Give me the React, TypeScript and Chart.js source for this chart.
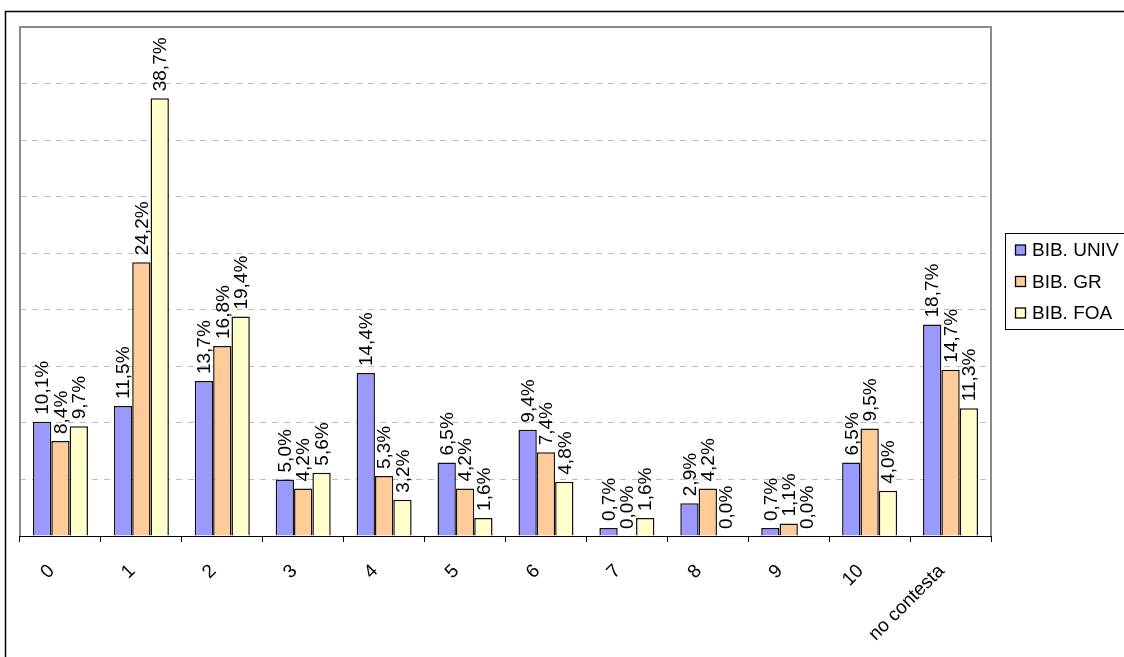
import React, { useEffect, useRef } from "react";
import { Chart, registerables } from "chart.js";

Chart.register(...registerables);

const categories = ["0", "1", "2", "3", "4", "5", "6", "7", "8", "9", "10", "no contesta"];
const seriesNames = ["BIB. UNIV", "BIB. GR", "BIB. FOA"];
const univValues = [10.1, 11.5, 13.7, 5.0, 14.4, 6.5, 9.4, 0.7, 2.9, 0.7, 6.5, 18.7];
const grValues = [8.4, 24.2, 16.8, 4.2, 5.3, 4.2, 7.4, 0.0, 4.2, 1.1, 9.5, 14.7];
const foaValues = [9.7, 38.7, 19.4, 5.6, 3.2, 1.6, 4.8, 1.6, 0.0, 0.0, 4.0, 11.3];
const seriesColors = ["#9999FF", "#FFCC99", "#FFFFCC"];

const FONT = "'Liberation Sans', Arial, sans-serif";

const framePlugin = {
  id: "frame",
  beforeDraw(chart: any) {
    const { ctx, width, height } = chart;
    ctx.save();
    ctx.fillStyle = "#ffffff";
    ctx.fillRect(0, 0, width, height);
    ctx.strokeStyle = "#000000";
    ctx.lineWidth = 1.5;
    ctx.strokeRect(5.5, 11.5, width + 20, height + 20);
    ctx.restore();
  },
  afterDatasetsDraw(chart: any) {
    const { ctx, chartArea } = chart;
    const { left, top, right, bottom } = chartArea;
    ctx.save();
    ctx.strokeStyle = "#8a8a8a";
    ctx.lineWidth = 2;
    ctx.beginPath();
    ctx.moveTo(left, bottom);
    ctx.lineTo(left, top);
    ctx.lineTo(right, top);
    ctx.lineTo(right, bottom);
    ctx.stroke();
    ctx.strokeStyle = "#000000";
    ctx.lineWidth = 1.2;
    ctx.beginPath();
    ctx.moveTo(left, Math.round(bottom) + 0.5);
    ctx.lineTo(right, Math.round(bottom) + 0.5);
    ctx.stroke();
    ctx.restore();
  },
};

const labelPlugin = {
  id: "barLabels",
  afterDatasetsDraw(chart: any) {
    const { ctx } = chart;
    ctx.save();
    ctx.fillStyle = "#000000";
    ctx.font = `19px ${FONT}`;
    ctx.textAlign = "left";
    ctx.textBaseline = "middle";
    chart.data.datasets.forEach((ds: any, i: number) => {
      const meta = chart.getDatasetMeta(i);
      meta.data.forEach((bar: any, j: number) => {
        const v = ds.data[j] as number;
        const text = v.toFixed(1).replace(".", ",") + "%";
        ctx.save();
        ctx.translate(bar.x + 1, bar.y - 7);
        ctx.rotate(-Math.PI / 2);
        ctx.fillText(text, 0, 0);
        ctx.restore();
      });
    });
    ctx.restore();
  },
};

const legendPlugin = {
  id: "boxLegend",
  afterDraw(chart: any) {
    const { ctx } = chart;
    ctx.save();
    ctx.strokeStyle = "#000000";
    ctx.lineWidth = 1;
    ctx.strokeRect(1005.5, 233.5, 200, 96);
    ctx.font = `19px ${FONT}`;
    ctx.textAlign = "left";
    ctx.textBaseline = "middle";
    chart.data.datasets.forEach((ds: any, i: number) => {
      const cy = 250 + i * 31.5;
      ctx.fillStyle = ds.backgroundColor;
      ctx.fillRect(1015.5, cy - 5, 10, 10);
      ctx.lineWidth = 1.3;
      ctx.strokeRect(1015.5, cy - 5, 10, 10);
      ctx.fillStyle = "#000000";
      ctx.fillText(ds.label, 1032, cy + 1);
    });
    ctx.restore();
  },
};

export default function App() {
  const ref = useRef<HTMLCanvasElement>(null);
  useEffect(() => {
    if (!ref.current) return;
    const seriesData = [univValues, grValues, foaValues];
    const chart = new Chart(ref.current, {
      type: "bar",
      data: {
        labels: categories,
        datasets: seriesNames.map((name, i) => ({
          label: name,
          data: seriesData[i],
          backgroundColor: seriesColors[i],
          borderColor: "#111111",
          borderWidth: 1.5,
          barPercentage: 1,
          categoryPercentage: 0.68,
        })),
      },
      options: {
        responsive: false,
        animation: false,
        layout: { padding: { left: 20, top: 27, right: 133, bottom: 0 } },
        plugins: {
          legend: { display: false },
          tooltip: { enabled: false },
        },
        scales: {
          x: {
            afterFit: (s: any) => {
              s.height = 121;
            },
            grid: {
              offset: true,
              drawOnChartArea: false,
              drawTicks: true,
              tickLength: 6,
              color: "#000000",
            },
            border: { display: false },
            ticks: {
              color: "#000000",
              font: { family: FONT, size: 19 },
              minRotation: 45,
              maxRotation: 45,
              labelOffset: -9,
              padding: 18,
              autoSkip: false,
            },
          },
          y: {
            min: 0,
            max: 45,
            afterFit: (s: any) => {
              s.width = 0;
            },
            ticks: { display: false, stepSize: 5 },
            grid: { color: "#bdbdbd", drawTicks: false, tickLength: 0 },
            border: { display: false, dash: [6, 6] },
          },
        },
      },
      plugins: [framePlugin, labelPlugin, legendPlugin],
    });
    return () => chart.destroy();
  }, []);
  return (
    <div style={{ position: "absolute", left: 0, top: 0, width: 1124, height: 657 }}>
      <canvas ref={ref} width={1124} height={657} style={{ display: "block" }} />
    </div>
  );
}
